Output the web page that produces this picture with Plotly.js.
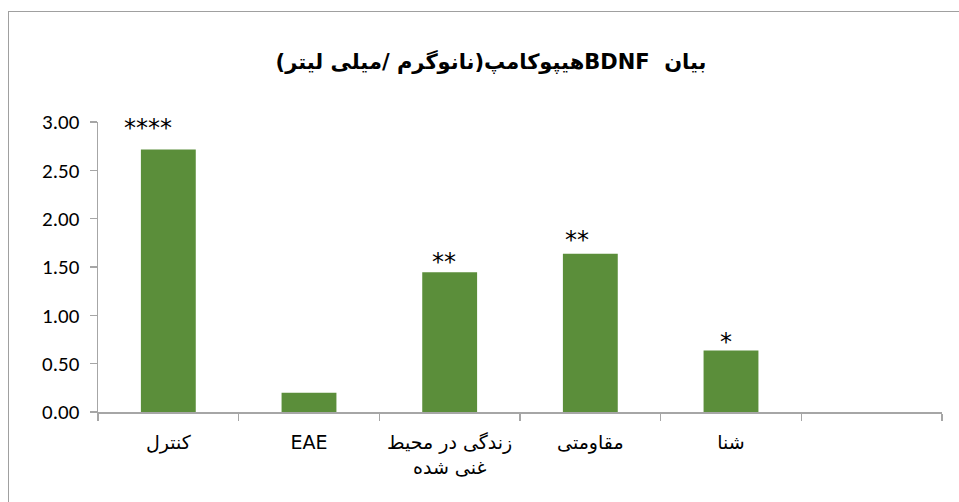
<!DOCTYPE html>
<html>
<head>
<meta charset="utf-8">
<script src="https://cdn.plot.ly/plotly-3.0.1.min.js"></script>
<style>
html,body{margin:0;padding:0;background:#fff;}
#wrap{position:relative;width:959px;height:502px;overflow:hidden;}
#frame{position:absolute;left:8px;top:11px;width:1000px;height:600px;border:1.5px solid #a0a0a0;box-sizing:border-box;pointer-events:none;}
#chart{position:absolute;left:0;top:0;width:959px;height:502px;}
</style>
</head>
<body>
<div id="wrap">
<div id="chart"></div>
<div id="frame"></div>
</div>
<script>
var categories = ["کنترل", "EAE", "زندگی در محیط<br>غنی شده", "مقاومتی", "شنا", " "];
var values = [2.715, 0.20, 1.446, 1.636, 0.636, null];
var stars = ["****", "", "**", "**", "*", ""];
var starY = [2.94, null, 1.55, 1.78, 0.72, null];
var starShift = [-20, 0, -6, -13, -5, 0];
var yTicks = [0, 0.5, 1, 1.5, 2, 2.5, 3];
var titleText = "\u202B<b>بیان  BDNFهیپوکامپ(نانوگرم /میلی لیتر)</b>\u202C";

var font = "Carlito, 'Open Sans', 'DejaVu Sans', sans-serif";

var annotations = [];
for (var i = 0; i < categories.length; i++) {
  if (stars[i]) {
    annotations.push({
      x: categories[i], y: starY[i], xref: 'x', yref: 'y',
      text: stars[i], showarrow: false, yanchor: 'middle', xshift: starShift[i],
      font: {family: "'DejaVu Sans', sans-serif", size: 24, color: '#000'}
    });
  }
}

var trace = {
  type: 'bar',
  x: categories,
  y: values,
  marker: {color: 'rgb(91,142,58)'},
  hoverinfo: 'none'
};

var layout = {
  width: 959, height: 502,
  margin: {l: 98, r: 17, t: 122, b: 90},
  paper_bgcolor: 'rgba(0,0,0,0)',
  plot_bgcolor: 'rgba(0,0,0,0)',
  showlegend: false,
  bargap: 0.61,
  title: {
    text: titleText,
    x: 0.512, xanchor: 'center', y: 0.877, yanchor: 'middle',
    font: {family: "'DejaVu Sans', sans-serif", size: 21, color: '#000'}
  },
  xaxis: {
    type: 'category',
    showline: true, linecolor: '#a6a6a6', linewidth: 1.5,
    ticks: 'outside', tickson: 'boundaries', ticklen: 7, tickcolor: '#a6a6a6', tickwidth: 1.5,
    tickfont: {family: "'DejaVu Sans', sans-serif", size: 19, color: '#000'},
    tickangle: 0, automargin: false,
    ticklabelstandoff: 13,
    showgrid: false, zeroline: false, fixedrange: true
  },
  yaxis: {
    range: [0, 3], tickvals: yTicks, tickformat: '.2f',
    showline: true, linecolor: '#a6a6a6', linewidth: 1.5,
    ticks: 'outside', ticklen: 7, tickcolor: '#a6a6a6', tickwidth: 1.5,
    tickfont: {family: font, size: 21, color: '#000'},
    showgrid: false, zeroline: false, fixedrange: true, ticklabelstandoff: 6
  },
  annotations: annotations
};

Plotly.newPlot('chart', [trace], layout, {displayModeBar: false, staticPlot: true});
</script>
</body>
</html>
